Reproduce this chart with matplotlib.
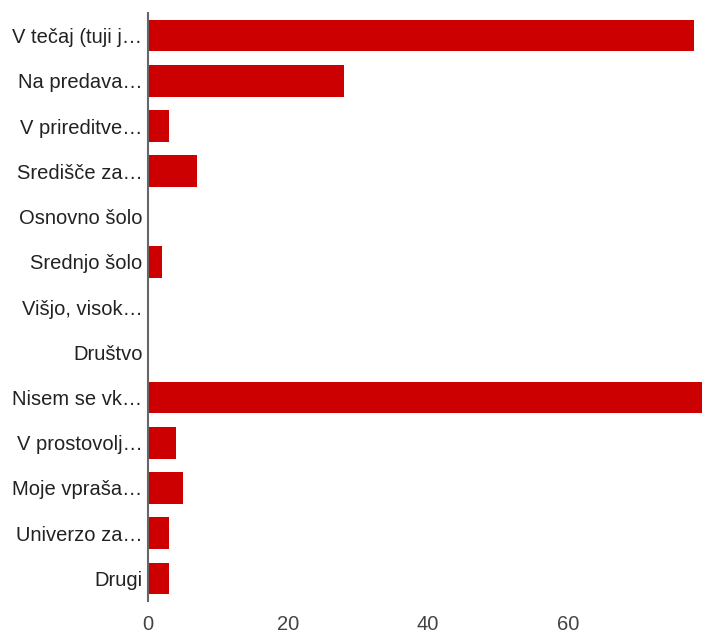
import matplotlib
matplotlib.use("Agg")
import matplotlib.pyplot as plt

labels = ["V tečaj (tuji j…", "Na predava…", "V prireditve…", "Središče za…",
          "Osnovno šolo", "Srednjo šolo", "Višjo, visok…", "Društvo",
          "Nisem se vk…", "V prostovolj…", "Moje vpraša…", "Univerzo za…", "Drugi"]
values = [78, 28, 3, 7, 0, 2, 0, 0, 80, 4, 5, 3, 3]
xticks = [0, 20, 40, 60]

plt.rcParams["font.family"] = ["Liberation Sans", "DejaVu Sans"]

fig = plt.figure(figsize=(7.02, 6.33), dpi=100)
ax = fig.add_axes([148 / 702, 1 - 601 / 633, 1 - 148 / 702, 588 / 633])
y = range(len(labels))
ax.barh(list(y), values, height=0.7, color="#cc0000")
ax.set_yticks(list(y))
ax.set_yticklabels(labels, fontsize=14.5, color="#222222")
ax.set_ylim(len(labels) - 0.5, -0.5)
ax.set_xlim(0, 79.1)
ax.set_xticks(xticks)
ax.set_xticklabels([str(t) for t in xticks], fontsize=14.5, color="#444444")
ax.tick_params(axis="both", length=0)
ax.tick_params(axis="x", pad=10)
ax.tick_params(axis="y", pad=4)
for s in ["top", "right", "bottom"]:
    ax.spines[s].set_visible(False)
ax.spines["left"].set_color("#666666")
ax.spines["left"].set_linewidth(1.5)

fig.savefig("out.png", dpi=100)
